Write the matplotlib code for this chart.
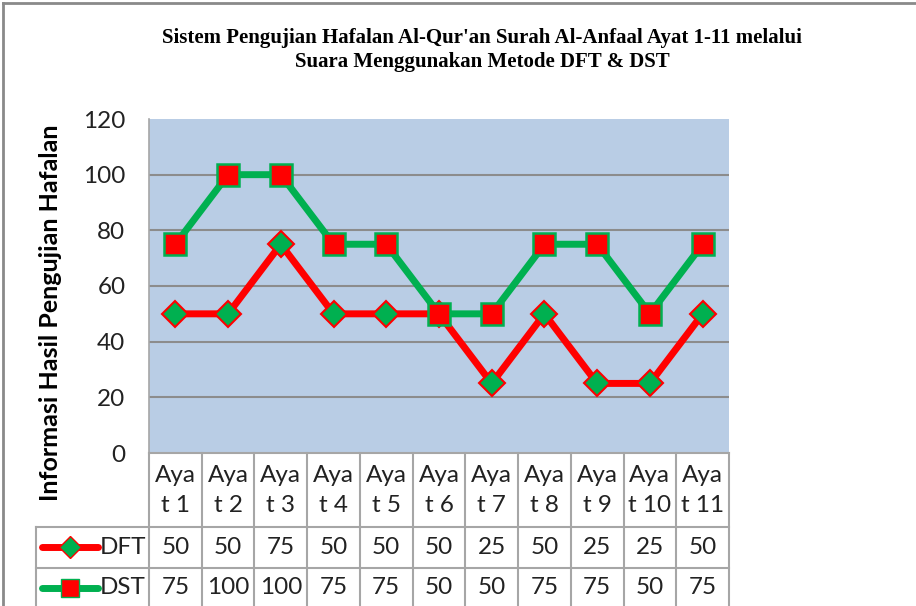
import matplotlib
matplotlib.use("Agg")
import matplotlib.pyplot as plt
from matplotlib.transforms import blended_transform_factory
from matplotlib.lines import Line2D

# --- data ---
CATEGORIES = ["Ayat 1", "Ayat 2", "Ayat 3", "Ayat 4", "Ayat 5", "Ayat 6",
              "Ayat 7", "Ayat 8", "Ayat 9", "Ayat 10", "Ayat 11"]
CAT_LINES = [("Aya", "t " + c.split()[1]) for c in CATEGORIES]
DFT = [50, 50, 75, 50, 50, 50, 25, 50, 25, 25, 50]
DST = [75, 100, 100, 75, 75, 50, 50, 75, 75, 50, 75]
Y_TICKS = [0, 20, 40, 60, 80, 100, 120]

TITLE = "Sistem Pengujian Hafalan Al-Qur'an Surah Al-Anfaal Ayat 1-11 melalui\nSuara Menggunakan Metode DFT & DST"
YLABEL = "Informasi Hasil Pengujian Hafalan"

RED = "#FF0000"
GREEN = "#00B050"
BG = "#B9CDE5"
GRID = "#8C8C8C"
TABLE_LINE = "#A6A6A6"
FONT = "Lato"
FS = 17.5

W, H = 916, 606
fig = plt.figure(figsize=(W / 100, H / 100), dpi=100)

# plot area in pixels
px_left, px_right, px_top, px_bottom = 149, 729, 119, 453
ax = fig.add_axes([px_left / W, 1 - px_bottom / H,
                   (px_right - px_left) / W, (px_bottom - px_top) / H])
ax.set_facecolor(BG)

x = list(range(len(CATEGORIES)))
ax.plot(x, DFT, color=RED, lw=5, marker="D", markersize=13,
        markerfacecolor=GREEN, markeredgecolor=RED, markeredgewidth=1.5,
        solid_capstyle="round", zorder=3)
ax.plot(x, DST, color=GREEN, lw=5, marker="s", markersize=15.5,
        markerfacecolor=RED, markeredgecolor=GREEN, markeredgewidth=1.8,
        solid_capstyle="round", zorder=4)

ax.set_xlim(-0.5, len(CATEGORIES) - 0.5)
ax.set_ylim(0, 120)
ax.set_yticks(Y_TICKS)
ax.set_yticklabels([str(v) for v in Y_TICKS], fontsize=FS, family=FONT, color="#222222")
ax.set_xticks([])
ax.tick_params(axis="y", length=0, pad=17)
for v in Y_TICKS[1:-1]:
    ax.axhline(v, color=GRID, lw=1.5, zorder=1)
for side in ["top", "right", "bottom"]:
    ax.spines[side].set_visible(False)
ax.spines["left"].set_color(TABLE_LINE)
ax.spines["left"].set_linewidth(1.2)

ax.set_ylabel(YLABEL, fontsize=18, family=FONT, fontweight="bold")
ax.yaxis.set_label_coords(-(px_left - 62) / (px_right - px_left),
                          (px_bottom - 313) / (px_bottom - px_top))

# --- data table under the plot ---
span = px_bottom - px_top
def ay(py):
    return (px_bottom - py) / span

tr = blended_transform_factory(ax.transData, ax.transAxes)
row_hdr_bot = ay(527)
row_dft_bot = ay(568)
row_dst_bot = ay(640)
x_leg = -0.5 - (px_left - 36) / ((px_right - px_left) / len(CATEGORIES))

line_kw = dict(color=TABLE_LINE, lw=1.5, transform=tr, clip_on=False, zorder=2)
# vertical lines
for i in range(len(CATEGORIES) + 1):
    ax.plot([i - 0.5, i - 0.5], [0, row_dst_bot], **line_kw)
ax.plot([x_leg, x_leg], [row_hdr_bot, row_dst_bot], **line_kw)
# horizontal lines
ax.plot([-0.5, len(CATEGORIES) - 0.5], [0, 0], **line_kw)
ax.plot([x_leg, len(CATEGORIES) - 0.5], [row_hdr_bot, row_hdr_bot], **line_kw)
ax.plot([x_leg, len(CATEGORIES) - 0.5], [row_dft_bot, row_dft_bot], **line_kw)

txt_kw = dict(transform=tr, ha="center", va="center", fontsize=FS, family=FONT,
              color="#222222", clip_on=False)
for i, (a, b) in enumerate(CAT_LINES):
    ax.text(i, ay(476), a, **txt_kw)
    ax.text(i, ay(506), b, **txt_kw)
for i, v in enumerate(DFT):
    ax.text(i, ay(547), str(v), **txt_kw)
for i, v in enumerate(DST):
    ax.text(i, ay(588), str(v), **txt_kw)

# legend keys inside the table
def fx(px):
    return px / W

def fy(py):
    return 1 - py / H

for py, lc, mk, mfc, mec, ms, name in [
        (547, RED, "D", GREEN, RED, 11, "DFT"),
        (588, GREEN, "s", RED, GREEN, 12.5, "DST")]:
    fig.add_artist(Line2D([fx(42), fx(98)], [fy(py), fy(py)], color=lc, lw=5,
                          solid_capstyle="round", transform=fig.transFigure))
    fig.add_artist(Line2D([fx(70)], [fy(py)], marker=mk, markersize=ms,
                          markerfacecolor=mfc, markeredgecolor=mec,
                          markeredgewidth=1, transform=fig.transFigure))
    fig.text(fx(123), fy(py), name, ha="center", va="center", fontsize=FS,
             family=FONT, color="#222222")

# title
fig.text(fx(482), fy(50), TITLE, ha="center", va="center", fontsize=15,
         family="Liberation Serif", fontweight="bold", linespacing=1.25)

# outer chart border (top and left edges)
fig.add_artist(Line2D([fx(3), 1], [fy(3), fy(3)], color="#8A8A8A", lw=2,
                      transform=fig.transFigure))
fig.add_artist(Line2D([fx(3), fx(3)], [fy(3), 0], color="#8A8A8A", lw=2,
                      transform=fig.transFigure))

fig.savefig("out.png", dpi=100)
